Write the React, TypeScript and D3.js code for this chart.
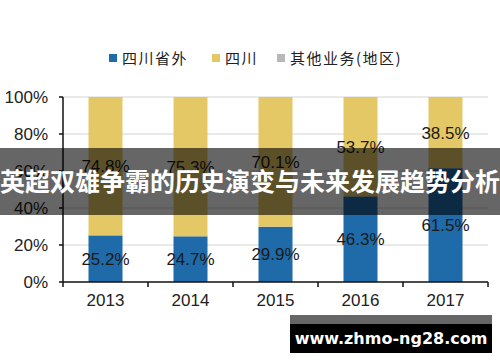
import React from 'react';
import * as d3 from 'd3';

// chart data (percent of revenue)
const YEARS = ['2013', '2014', '2015', '2016', '2017'];
const OUTSIDE = [25.2, 24.7, 29.9, 46.3, 61.5]; // 四川省外
const SICHUAN = [74.8, 75.3, 70.1, 53.7, 38.5]; // 四川
const OTHER = [0, 0, 0, 0, 0]; // 其他业务(地区)
const Y_TICKS = [0, 20, 40, 60, 80, 100];

const SERIES = [
  { key: 'outside', name: '四川省外', color: '#1f6aa8' },
  { key: 'sichuan', name: '四川', color: '#e5c866' },
  { key: 'other', name: '其他业务(地区)', color: '#b8b8b8' },
];

const BANNER = '英超双雄争霸的历史演变与未来发展趋势分析';
const WATERMARK = 'www.zhmo-ng28.com';

const W = 500;
const H = 362;
const margin = { top: 97, right: 12, bottom: 80, left: 63 };

export default function App() {
  const rows = YEARS.map((y, i) => ({
    year: y,
    outside: OUTSIDE[i],
    sichuan: SICHUAN[i],
    other: OTHER[i],
  }));

  const stacked = d3.stack<any>().keys(['outside', 'sichuan', 'other'])(rows);

  const x = d3.scaleBand()
    .domain(YEARS)
    .range([margin.left, W - margin.right])
    .paddingInner(0.6)
    .paddingOuter(0.3);

  const y = d3.scaleLinear()
    .domain([0, 100])
    .range([H - margin.bottom, margin.top]);

  const font = '"Liberation Sans", Arial, sans-serif';
  const cjk = '"Noto Sans CJK SC", sans-serif';
  const step = x.step();
  const x0 = margin.left;
  const x1 = W - margin.right;

  // legend layout
  const legendX = [109, 212, 277];

  return (
    <div style={{ position: 'absolute', left: 0, top: 0 }}>
      <svg width={W} height={H} style={{ display: 'block', background: '#fff' }}>
        {/* legend */}
        {SERIES.map((s, i) => (
          <g key={s.key} transform={`translate(${legendX[i]},58)`}>
            <rect x={0} y={-4} width={8} height={8} fill={s.color} />
            <text x={13} y={5.5} fontFamily={cjk} fontSize={15} letterSpacing={1.5} fill="#222">
              {s.name}
            </text>
          </g>
        ))}

        {/* gridlines */}
        {Y_TICKS.filter(t => t > 0).map(t => (
          <line key={t} x1={x0} x2={x1} y1={y(t)} y2={y(t)} stroke="#d4d4d4" strokeWidth={1} />
        ))}

        {/* bars */}
        {stacked.map((layer, li) => (
          <g key={layer.key} fill={SERIES[li].color}>
            {layer.map((d, i) => (
              <rect
                key={i}
                x={x(YEARS[i])}
                y={y(d[1])}
                width={x.bandwidth()}
                height={Math.max(0, y(d[0]) - y(d[1]))}
              />
            ))}
          </g>
        ))}

        {/* value labels */}
        {stacked.slice(0, 2).map(layer => (
          <g key={'l' + layer.key}>
            {layer.map((d, i) => (
              <text
                key={i}
                x={(x(YEARS[i]) as number) + x.bandwidth() / 2}
                y={(y(d[0]) + y(d[1])) / 2 + 6}
                textAnchor="middle"
                fontFamily={font}
                fontSize={17}
                fill="#1a1a1a"
              >
                {(d[1] - d[0]).toFixed(1)}%
              </text>
            ))}
          </g>
        ))}

        {/* y axis */}
        <line x1={x0} x2={x0} y1={y(100)} y2={y(0)} stroke="#111" strokeWidth={1.5} />
        {Y_TICKS.map(t => (
          <g key={t}>
            <line x1={x0 - 4} x2={x0} y1={y(t)} y2={y(t)} stroke="#111" strokeWidth={1.5} />
            <text x={x0 - 15} y={y(t) + 6} textAnchor="end" fontFamily={font} fontSize={17} fill="#222">
              {t}%
            </text>
          </g>
        ))}

        {/* x axis */}
        <line x1={x0} x2={x1} y1={y(0)} y2={y(0)} stroke="#111" strokeWidth={1.5} />
        {d3.range(YEARS.length + 1).map(i => (
          <line key={i} x1={x0 + i * step} x2={x0 + i * step} y1={y(0)} y2={y(0) + 5} stroke="#111" strokeWidth={1.5} />
        ))}
        {YEARS.map(yr => (
          <text
            key={yr}
            x={(x(yr) as number) + x.bandwidth() / 2}
            y={y(0) + 24}
            textAnchor="middle"
            fontFamily={font}
            fontSize={17}
            fill="#222"
          >
            {yr}
          </text>
        ))}

        {/* overlay banner */}
        <rect x={0} y={148} width={W} height={67} fill="#000" opacity={0.6} />
        <text
          x={W / 2}
          y={191}
          textAnchor="middle"
          fontFamily={cjk}
          fontWeight="bold"
          fontSize={25}
          fill="#fff"
        >
          {BANNER}
        </text>

        {/* watermark */}
        <rect x={290} y={315} width={202} height={10} fill="#666" />
        <rect x={290} y={324} width={202} height={29} fill="#000" />
        <text
          x={391}
          y={344}
          textAnchor="middle"
          fontFamily='"DejaVu Sans", sans-serif'
          fontWeight="bold"
          fontSize={16}
          fill="#fff"
        >
          {WATERMARK}
        </text>
      </svg>
    </div>
  );
}
